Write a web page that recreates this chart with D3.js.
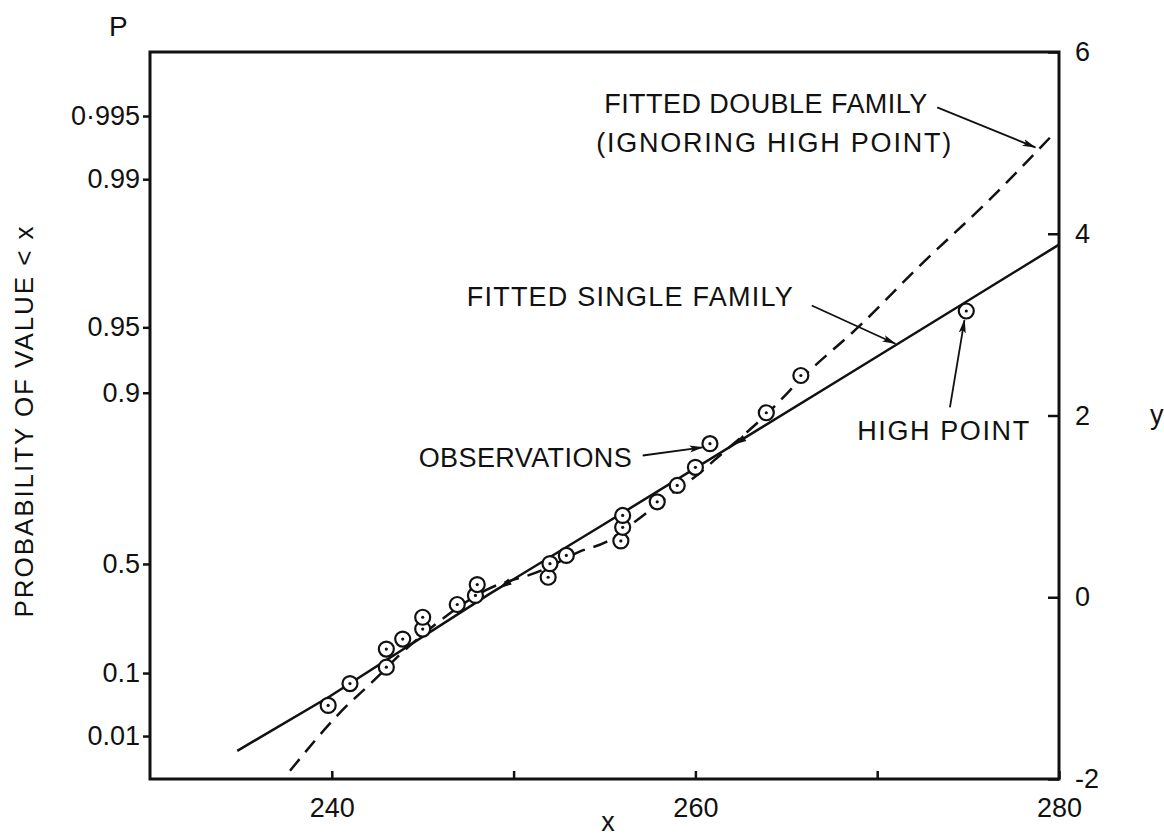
<!DOCTYPE html>
<html>
<head>
<meta charset="utf-8">
<script src="https://cdn.jsdelivr.net/npm/d3@7"></script>
<style>
  body { margin: 0; background: #fff; }
  text { font-family: "Liberation Sans", Arial, sans-serif; fill: #111; }
</style>
</head>
<body>
<svg id="chart" width="1164" height="836"></svg>
<script>
// Observed values (x) and their plotting positions on the reduced-variate scale (y)
const obsX = [239.8, 241.0, 243.0, 243.0, 243.9, 245.0, 245.0, 246.9, 247.9, 248.0,
              251.9, 252.0, 252.9, 255.9, 256.0, 256.0, 257.9, 259.0, 260.0, 260.8,
              263.9, 265.8, 274.9];
const obsY = [-1.19, -0.95, -0.77, -0.57, -0.46, -0.35, -0.22, -0.08, 0.02, 0.14,
              0.22, 0.37, 0.46, 0.62, 0.77, 0.90, 1.05, 1.23, 1.43, 1.69,
              2.03, 2.44, 3.15];

// Fitted single family (solid)
const singleX = [234.8, 239.9, 248.7, 254.7, 267.9, 280.0];
const singleY = [-1.69, -1.09, 0.04, 0.77, 2.39, 3.88];

// Fitted double family, ignoring the high point (dashed)
const doubleX = [237.7, 240.4, 242.5, 243.7, 245.5, 248.5, 251.6, 253.6, 255.1, 256.8,
                 258.4, 260.2, 261.0, 264.0, 266.0, 269.0, 272.3, 276.0, 279.8];
const doubleY = [-1.91, -1.28, -0.88, -0.64, -0.33, 0.08, 0.30, 0.50, 0.61, 0.85,
                 1.10, 1.36, 1.50, 2.03, 2.44, 2.98, 3.64, 4.34, 5.12];

// Axis ticks
const xTicks = [240, 250, 260, 270, 280];
const xTickLabels = ["240", "", "260", "", "280"];
const yTicks = [-2, 0, 2, 4, 6];
const probTicks = [0.995, 0.99, 0.95, 0.9, 0.5, 0.1, 0.01];
const probLabels = ["0·995", "0.99", "0.95", "0.9", "0.5", "0.1", "0.01"];

// Small direction arrowheads sitting on the single-family line
const lineArrowX = [249.8, 262.7];

// Reduced variate of the extreme-value distribution
const reduced = p => -Math.log(-Math.log(p));

const svg = d3.select("#chart");
const frame = { left: 150, right: 1059, top: 52, bottom: 779 };
const x = d3.scaleLinear().domain([230, 280]).range([frame.left, frame.right]);
const y = d3.scaleLinear().domain([-2, 6]).range([frame.bottom, frame.top]);
const ink = "#111";

// arrow marker for callouts
svg.append("defs").append("marker")
  .attr("id", "head")
  .attr("markerUnits", "userSpaceOnUse")
  .attr("viewBox", "0 0 14 8")
  .attr("markerWidth", 14).attr("markerHeight", 8)
  .attr("refX", 13).attr("refY", 4)
  .attr("orient", "auto")
  .append("path").attr("d", "M0,0.5 L14,4 L0,7.5 L3,4 z").attr("fill", ink);

// Axes
const axisStyle = g => {
  g.select(".domain").remove();
  g.selectAll(".tick line").attr("stroke", ink).attr("stroke-width", 2.5);
  g.selectAll(".tick text").style("font-size", "27px").attr("fill", ink);
};

svg.append("g")
  .attr("transform", `translate(0,${frame.bottom})`)
  .call(d3.axisBottom(x).tickValues(xTicks).tickSize(-8).tickPadding(19)
        .tickFormat((d, i) => xTickLabels[i]))
  .call(axisStyle);

svg.append("g")
  .attr("transform", `translate(${frame.right},0)`)
  .call(d3.axisRight(y).tickValues(yTicks).tickSize(-11).tickPadding(16)
        .tickFormat(d3.format("d")))
  .call(axisStyle)
  .call(g => g.selectAll(".tick text").text(d => d < 0 ? "-" + Math.abs(d) : d));

svg.append("g")
  .attr("transform", `translate(${frame.left},0)`)
  .call(d3.axisLeft(y).tickValues(probTicks.map(reduced)).tickSize(7).tickPadding(3)
        .tickFormat((d, i) => probLabels[i]))
  .call(axisStyle);

// frame
svg.append("rect")
  .attr("x", frame.left).attr("y", frame.top)
  .attr("width", frame.right - frame.left).attr("height", frame.bottom - frame.top)
  .attr("fill", "none").attr("stroke", ink).attr("stroke-width", 3);

// axis titles
svg.append("text").attr("x", 109).attr("y", 36).style("font-size", "28px").text("P");
svg.append("text").attr("x", 608).attr("y", 831).attr("text-anchor", "middle")
  .style("font-size", "27px").text("x");
svg.append("text").attr("x", 1150).attr("y", 424).style("font-size", "27px").text("y");
svg.append("text")
  .attr("transform", "translate(33,422) rotate(-90)")
  .attr("text-anchor", "middle")
  .attr("textLength", 391).attr("lengthAdjust", "spacing")
  .style("font-size", "26px")
  .text("PROBABILITY OF VALUE < x");

// fitted lines
const line = d3.line().x(d => x(d[0])).y(d => y(d[1]));
svg.append("path")
  .datum(d3.zip(singleX, singleY))
  .attr("d", line)
  .attr("fill", "none").attr("stroke", ink).attr("stroke-width", 2.5);

svg.append("path")
  .datum(d3.zip(doubleX, doubleY))
  .attr("d", line.curve(d3.curveMonotoneX))
  .attr("fill", "none").attr("stroke", ink).attr("stroke-width", 2.5)
  .attr("stroke-dasharray", "15,9");

// arrowheads along the single-family line, pointing down the line
const singleAt = d3.scaleLinear().domain(singleX).range(singleY);
lineArrowX.forEach(ax => {
  const px = x(ax), py = y(singleAt(ax));
  const qx = x(ax - 1), qy = y(singleAt(ax - 1));
  const ang = Math.atan2(qy - py, qx - px) * 180 / Math.PI;
  svg.append("path")
    .attr("transform", `translate(${px},${py}) rotate(${ang})`)
    .attr("d", "M0,-3.5 L13,0 L0,3.5 z")
    .attr("fill", ink);
});

// observations
const pts = svg.append("g").selectAll("g")
  .data(d3.zip(obsX, obsY))
  .join("g")
  .attr("transform", d => `translate(${x(d[0])},${y(d[1])})`);
pts.append("circle").attr("r", 7.5)
  .attr("fill", "#fff").attr("stroke", ink).attr("stroke-width", 2.2);
pts.append("circle").attr("r", 1.6).attr("fill", ink);

// callouts
const notes = [
  { text: "FITTED DOUBLE FAMILY", tx: 272.75, ty: 5.33, anchor: "end", len: 323 },
  { text: "(IGNORING HIGH POINT)", tx: 274.07, ty: 4.90, anchor: "end", len: 355 },
  { text: "FITTED SINGLE FAMILY", tx: 247.42, ty: 3.20, anchor: "start", len: 326 },
  { text: "OBSERVATIONS", tx: 244.78, ty: 1.43, anchor: "start", len: 213 },
  { text: "HIGH POINT", tx: 268.9, ty: 1.73, anchor: "start", len: 172 }
];
svg.append("g").selectAll("text")
  .data(notes).join("text")
  .attr("x", d => x(d.tx)).attr("y", d => y(d.ty))
  .attr("text-anchor", d => d.anchor)
  .attr("textLength", d => d.len).attr("lengthAdjust", "spacing")
  .style("font-size", "27px")
  .text(d => d.text);

const arrows = [
  { x1: 273.3, y1: 5.39, x2: 278.7, y2: 4.95 },
  { x1: 266.4, y1: 3.21, x2: 271.0, y2: 2.79 },
  { x1: 257.1, y1: 1.56, x2: 260.4, y2: 1.65 },
  { x1: 274.0, y1: 2.09, x2: 274.8, y2: 3.05 }
];
svg.append("g").selectAll("line")
  .data(arrows).join("line")
  .attr("x1", d => x(d.x1)).attr("y1", d => y(d.y1))
  .attr("x2", d => x(d.x2)).attr("y2", d => y(d.y2))
  .attr("stroke", ink).attr("stroke-width", 1.8)
  .attr("marker-end", "url(#head)");
</script>
</body>
</html>
